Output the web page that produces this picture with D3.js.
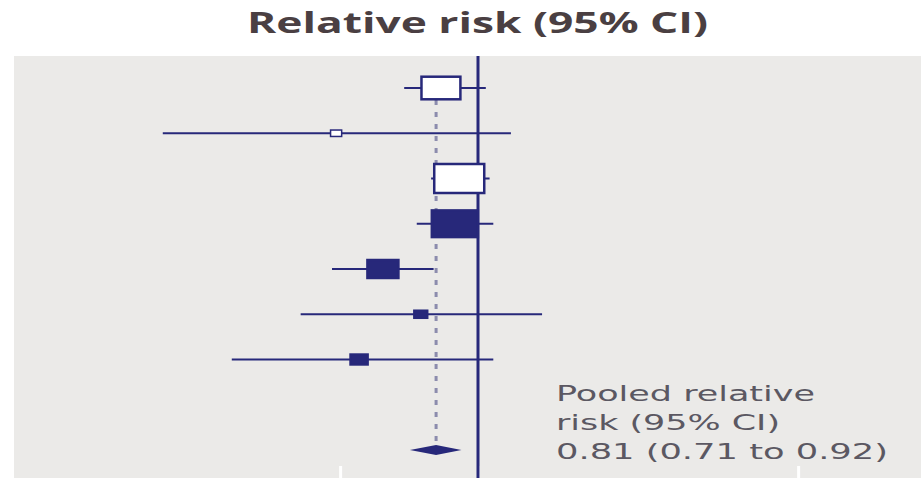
<!DOCTYPE html>
<html>
<head>
<meta charset="utf-8">
<script src="https://cdn.jsdelivr.net/npm/d3@7"></script>
<style>
  body { margin: 0; background: #fff; }
  svg { display: block; }
</style>
</head>
<body>
<div id="chart"></div>
<script>
// study rows, top to bottom
var studies = ["s1", "s2", "s3", "s4", "s5", "s6", "s7"];
var rr = [0.83, 0.49, 0.91, 0.89, 0.62, 0.75, 0.55];
var lower = [0.69, 0.205, 0.79, 0.735, 0.48, 0.41, 0.29];
var upper = [1.04, 1.18, 1.06, 1.08, 0.80, 1.38, 1.08];
var weights = [19.7, 1.6, 32.5, 27.5, 12.5, 2.5, 3.8];
var filled = [false, false, false, true, true, true, true];
// pooled estimate: [rr, lower, upper]
var pooled = [0.81, 0.71, 0.92];
var tickValues = [0.5, 1, 5];
var titleText = "Relative risk (95% CI)";
var pooledLabel = ["Pooled relative", "risk (95% CI)", "0.81 (0.71 to 0.92)"];

var W = 921, H = 478;
var navy = "#27287a";

var svg = d3.select("#chart").append("svg")
  .attr("width", W)
  .attr("height", H);

// grey panel
svg.append("rect")
  .attr("x", 14).attr("y", 56)
  .attr("width", W - 14).attr("height", H - 56)
  .attr("fill", "#ebeae8");

var x = d3.scaleLog().domain([0.1, 10]).range([20, 936]);
// row slots: the studies, a gap, then the pooled diamond
var y = d3.scalePoint()
  .domain(studies.concat(["gap", "pooled"]))
  .range([88, 450]);
var boxW = d3.scaleSqrt().domain([0, 32.5]).range([0, 50]);

// bottom ticks (white)
svg.append("g")
  .attr("transform", "translate(0," + H + ")")
  .call(d3.axisTop(x).tickValues(tickValues).tickSize(12).tickFormat(""))
  .call(function (g) { g.select(".domain").remove(); })
  .selectAll("line")
    .attr("stroke", "#fff")
    .attr("stroke-width", 3);

// dashed pooled line
svg.append("line")
  .attr("x1", x(pooled[0])).attr("x2", x(pooled[0]))
  .attr("y1", y("s1")).attr("y2", y("pooled"))
  .attr("stroke", "#8c8cad")
  .attr("stroke-width", 3)
  .attr("stroke-dasharray", "5,7");

// line of no effect
svg.append("line")
  .attr("x1", x(1)).attr("x2", x(1))
  .attr("y1", 56).attr("y2", H)
  .attr("stroke", navy)
  .attr("stroke-width", 3);

var rows = studies.map(function (s, i) {
  return { id: s, rr: rr[i], lo: lower[i], hi: upper[i], w: weights[i], filled: filled[i] };
});

// confidence intervals
svg.selectAll(".ci")
  .data(rows)
  .enter()
  .append("line")
    .attr("class", "ci")
    .attr("x1", function (d) { return x(d.lo); })
    .attr("x2", function (d) { return x(d.hi); })
    .attr("y1", function (d) { return y(d.id); })
    .attr("y2", function (d) { return y(d.id); })
    .attr("stroke", navy)
    .attr("stroke-width", 2);

// weight boxes
svg.selectAll(".box")
  .data(rows)
  .enter()
  .append("rect")
    .attr("class", "box")
    .attr("x", function (d) { return x(d.rr) - boxW(d.w) / 2; })
    .attr("y", function (d) { return y(d.id) - boxW(d.w) * 0.29; })
    .attr("width", function (d) { return boxW(d.w); })
    .attr("height", function (d) { return boxW(d.w) * 0.58; })
    .attr("fill", function (d) { return d.filled ? navy : "#fff"; })
    .attr("stroke", navy)
    .attr("stroke-width", function (d) { return d.w < 3 ? 1.5 : 2.5; });

// pooled diamond
var py = y("pooled");
svg.append("path")
  .attr("d", "M" + x(pooled[1]) + "," + py +
    "L" + x(pooled[0]) + "," + (py - 5) +
    "L" + x(pooled[2]) + "," + py +
    "L" + x(pooled[0]) + "," + (py + 5) + "Z")
  .attr("fill", navy);

// title
svg.append("text")
  .attr("x", 247).attr("y", 33)
  .attr("textLength", 461)
  .attr("lengthAdjust", "spacingAndGlyphs")
  .style("font-family", "'Open Sans', sans-serif")
  .style("font-weight", "bold")
  .style("font-size", "28px")
  .style("fill", "#4a3f42")
  .text(titleText);

// pooled label
var labelLen = [259, 224, 332];
svg.selectAll(".plabel")
  .data(pooledLabel)
  .enter()
  .append("text")
    .attr("class", "plabel")
    .attr("x", 556)
    .attr("y", function (d, i) { return 401 + i * 29; })
    .attr("textLength", function (d, i) { return labelLen[i]; })
    .attr("lengthAdjust", "spacingAndGlyphs")
    .style("font-family", "'DejaVu Sans', sans-serif")
    .style("font-size", "21px")
    .style("fill", "#5b5862")
    .text(function (d) { return d; });
</script>
</body>
</html>
